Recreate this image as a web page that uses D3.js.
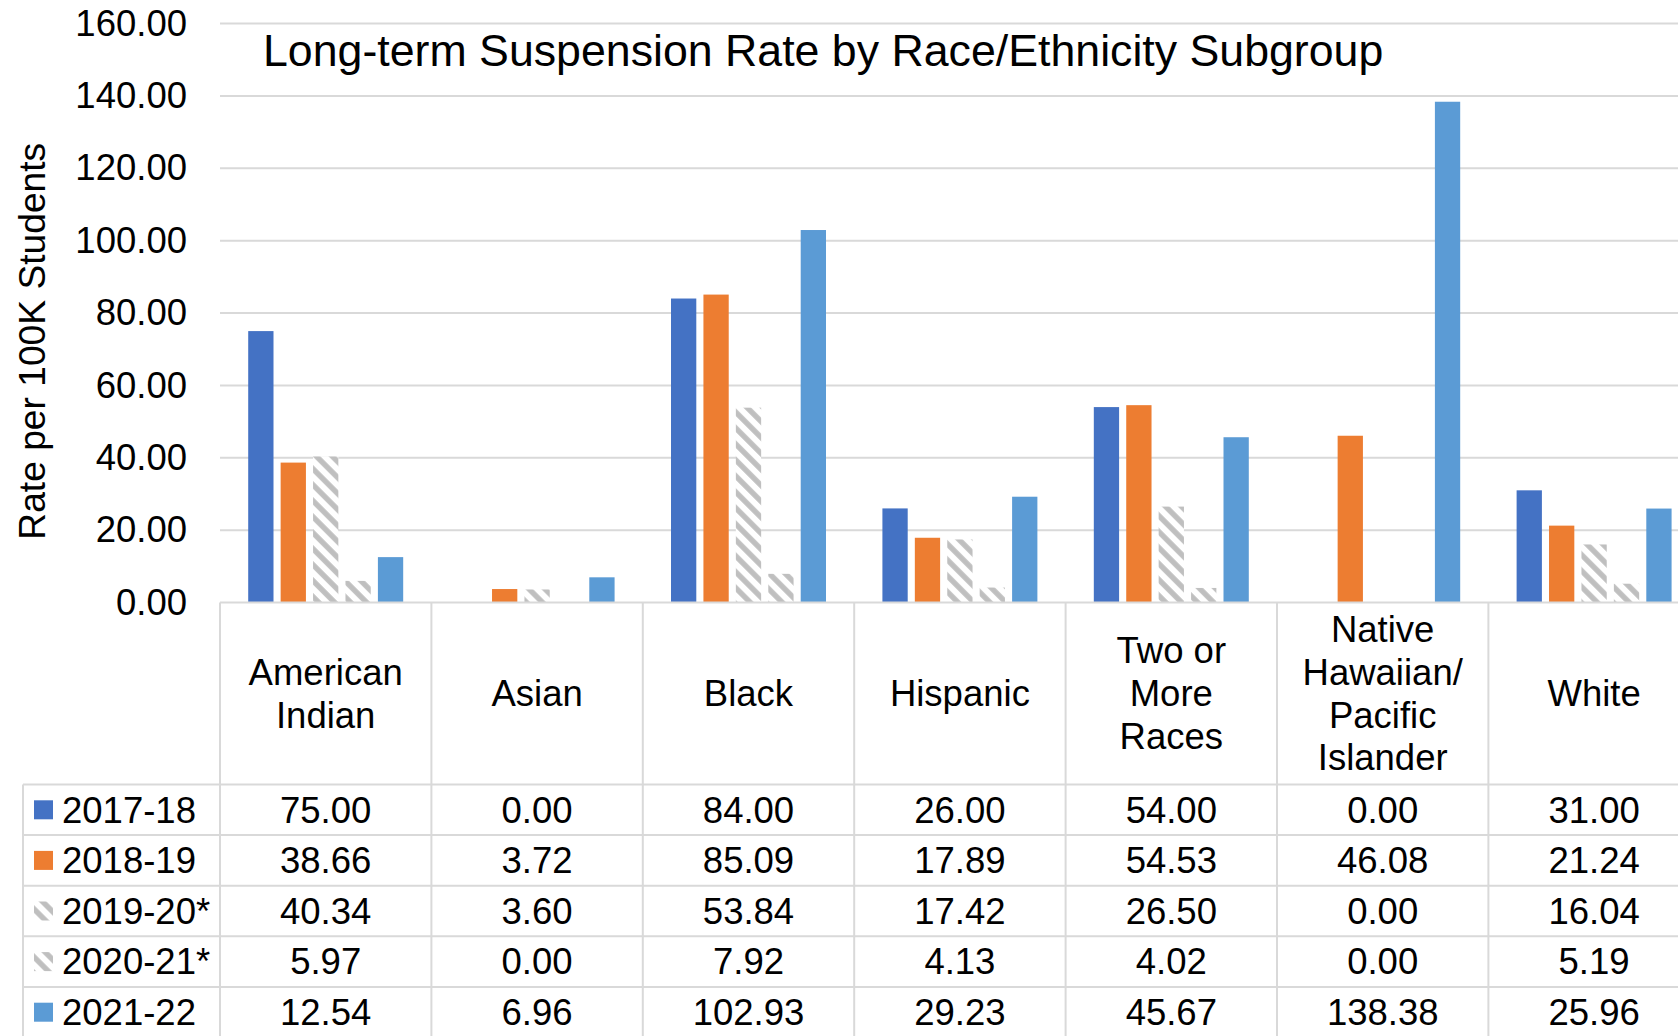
<!DOCTYPE html>
<html>
<head>
<meta charset="utf-8">
<script src="https://cdn.jsdelivr.net/npm/d3@7"></script>
<style>
  html, body { margin: 0; padding: 0; background: #fff; overflow: hidden; }
  svg { display: block; font-family: "Liberation Sans", Arial, sans-serif; }
</style>
</head>
<body>
<div id="chart"></div>
<script>
// chart data
const categories = ['American\nIndian', 'Asian', 'Black', 'Hispanic', 'Two or\nMore\nRaces', 'Native\nHawaiian/\nPacific\nIslander', 'White'];
const seriesNames = ['2017-18', '2018-19', '2019-20*', '2020-21*', '2021-22'];
const values2017 = [75.00, 0.00, 84.00, 26.00, 54.00, 0.00, 31.00];
const values2018 = [38.66, 3.72, 85.09, 17.89, 54.53, 46.08, 21.24];
const values2019 = [40.34, 3.60, 53.84, 17.42, 26.50, 0.00, 16.04];
const values2020 = [5.97, 0.00, 7.92, 4.13, 4.02, 0.00, 5.19];
const values2021 = [12.54, 6.96, 102.93, 29.23, 45.67, 138.38, 25.96];
const yTicks = [0, 20, 40, 60, 80, 100, 120, 140, 160];
const title = 'Long-term Suspension Rate by Race/Ethnicity Subgroup';
const yTitle = 'Rate per 100K Students';

const seriesValues = [values2017, values2018, values2019, values2020, values2021];
const fills = ['#4472C4', '#ED7D31', 'url(#hatch)', 'url(#hatch)', '#5B9BD5'];

const width = 1678;
const height = 1036;
const plotLeft = 220;
const catWidth = 211.4;
const plotRight = plotLeft + catWidth * categories.length;
const plotTop = 23.5;
const baseY = 602.5;
const headerBottom = 784.5;
const rowHeight = 50.6;
const legendLeft = 23;
const gridColor = '#d9d9d9';
const fontSize = 36.5;

const svg = d3.select('#chart')
  .append('svg')
  .attr('width', width)
  .attr('height', height);

// hatch pattern for the two starred years
const defs = svg.append('defs');
const hatch = defs.append('pattern')
  .attr('id', 'hatch')
  .attr('patternUnits', 'userSpaceOnUse')
  .attr('width', 11.3)
  .attr('height', 11.3)
  .attr('patternTransform', 'rotate(-45)');
hatch.append('rect')
  .attr('width', 11.3)
  .attr('height', 11.3)
  .attr('fill', '#fff');
hatch.append('line')
  .attr('x1', 2.8).attr('x2', 2.8)
  .attr('y1', 0).attr('y2', 11.3)
  .attr('stroke', '#bfbfbf')
  .attr('stroke-width', 5.4);

// scales
const x0 = d3.scaleBand()
  .domain(categories)
  .range([plotLeft, plotRight])
  .paddingInner(0)
  .paddingOuter(0);

const x1 = d3.scaleBand()
  .domain(seriesNames)
  .range([0, x0.bandwidth()])
  .paddingInner(0.22)
  .paddingOuter(0.87);

const y = d3.scaleLinear()
  .domain([0, 160])
  .range([baseY, plotTop]);

// gridlines
svg.append('g')
  .selectAll('line')
  .data(yTicks.filter(d => d > 0))
  .join('line')
  .attr('x1', plotLeft)
  .attr('x2', plotRight)
  .attr('y1', d => y(d))
  .attr('y2', d => y(d))
  .attr('stroke', gridColor)
  .attr('stroke-width', 2);

// y axis labels
const yAxis = d3.axisLeft(y)
  .tickValues(yTicks)
  .tickFormat(d3.format('.2f'))
  .tickSize(0)
  .tickPadding(0);

svg.append('g')
  .attr('transform', 'translate(187,0)')
  .call(yAxis)
  .call(g => g.select('.domain').remove())
  .call(g => g.selectAll('text')
    .attr('font-size', fontSize)
    .attr('font-family', '"Liberation Sans", Arial, sans-serif')
    .attr('fill', '#000'));

svg.append('text')
  .attr('transform', `translate(44.5, ${(baseY + 80) / 2}) rotate(-90)`)
  .attr('text-anchor', 'middle')
  .attr('font-size', 37.2)
  .attr('fill', '#000')
  .text(yTitle);

// title
svg.append('text')
  .attr('x', 263)
  .attr('y', 65.5)
  .attr('font-size', 44.7)
  .attr('fill', '#000')
  .text(title);

// bars
const bars = [];
categories.forEach((c, i) => {
  seriesNames.forEach((s, j) => {
    bars.push({ cat: c, series: s, value: seriesValues[j][i], fill: fills[j] });
  });
});

svg.append('g')
  .selectAll('rect')
  .data(bars.filter(d => d.value > 0))
  .join('rect')
  .attr('x', d => x0(d.cat) + x1(d.series))
  .attr('y', d => y(d.value))
  .attr('width', x1.bandwidth())
  .attr('height', d => baseY - y(d.value))
  .attr('fill', d => d.fill);

// data table
const table = svg.append('g');
const rowY = i => headerBottom + i * rowHeight;

// horizontal lines
table.append('line')
  .attr('x1', plotLeft).attr('x2', plotRight)
  .attr('y1', baseY).attr('y2', baseY)
  .attr('stroke', gridColor).attr('stroke-width', 2);

table.selectAll('.hline')
  .data(d3.range(seriesNames.length + 1))
  .join('line')
  .attr('class', 'hline')
  .attr('x1', legendLeft).attr('x2', plotRight)
  .attr('y1', d => rowY(d)).attr('y2', d => rowY(d))
  .attr('stroke', gridColor).attr('stroke-width', 2);

// vertical lines
table.selectAll('.vline')
  .data(d3.range(categories.length + 1))
  .join('line')
  .attr('class', 'vline')
  .attr('x1', d => plotLeft + d * catWidth).attr('x2', d => plotLeft + d * catWidth)
  .attr('y1', baseY).attr('y2', height + 10)
  .attr('stroke', gridColor).attr('stroke-width', 2);

table.append('line')
  .attr('x1', legendLeft).attr('x2', legendLeft)
  .attr('y1', headerBottom).attr('y2', height + 10)
  .attr('stroke', gridColor).attr('stroke-width', 2);

// category headers
const lineH = 42.8;
categories.forEach(c => {
  const lines = c.split('\n');
  const cx = x0(c) + x0.bandwidth() / 2;
  const cy = (baseY + headerBottom) / 2;
  const t = table.append('text')
    .attr('text-anchor', 'middle')
    .attr('font-size', fontSize)
    .attr('fill', '#000');
  lines.forEach((l, k) => {
    t.append('tspan')
      .attr('x', cx)
      .attr('y', cy + (k - (lines.length - 1) / 2) * lineH)
      .attr('dy', '0.35em')
      .text(l);
  });
});

// legend cells
seriesNames.forEach((s, j) => {
  const cy = rowY(j) + rowHeight / 2;
  table.append('rect')
    .attr('x', 34)
    .attr('y', cy - 9.5)
    .attr('width', 19)
    .attr('height', 19)
    .attr('fill', fills[j]);
  table.append('text')
    .attr('x', 62)
    .attr('y', cy)
    .attr('dy', '0.35em')
    .attr('font-size', fontSize)
    .attr('fill', '#000')
    .text(s);

  categories.forEach((c, i) => {
    table.append('text')
      .attr('x', x0(c) + x0.bandwidth() / 2)
      .attr('y', cy)
      .attr('dy', '0.35em')
      .attr('text-anchor', 'middle')
      .attr('font-size', fontSize)
      .attr('fill', '#000')
      .text(d3.format('.2f')(seriesValues[j][i]));
  });
});
</script>
</body>
</html>
